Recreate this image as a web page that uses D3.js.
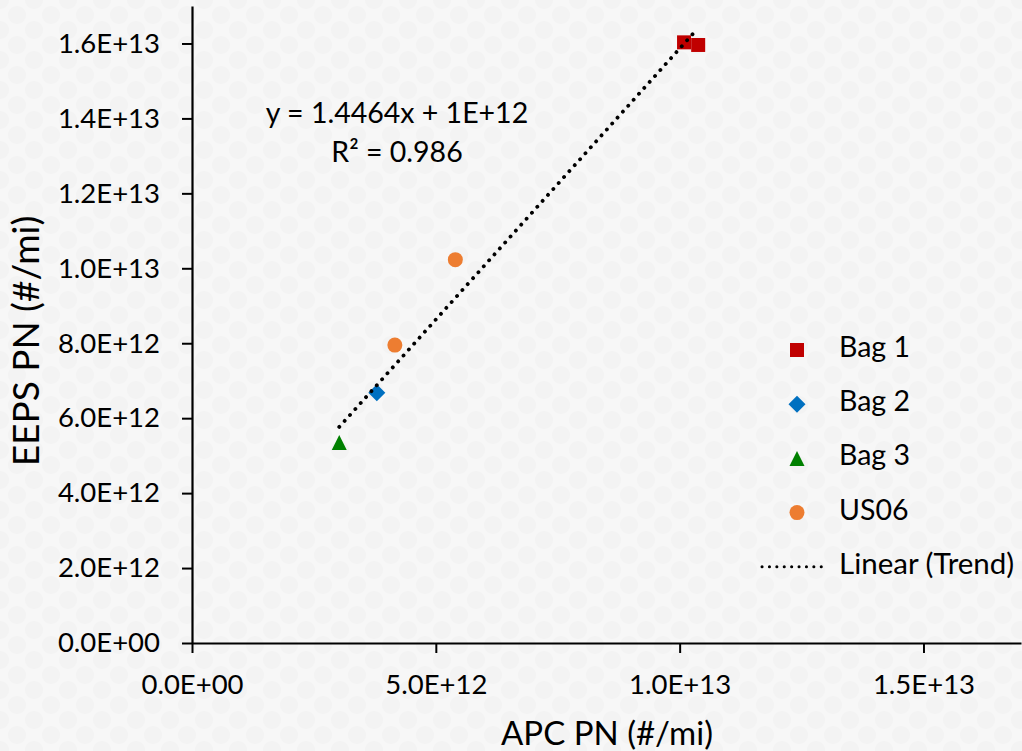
<!DOCTYPE html>
<html>
<head>
<meta charset="utf-8">
<script src="https://cdn.jsdelivr.net/npm/d3@7/dist/d3.min.js"></script>
<style>
  html, body { margin: 0; padding: 0; background: #f6f6f6; }
  svg { display: block; }
  text { font-family: Lato, "Open Sans", sans-serif; fill: #000; }
</style>
</head>
<body>
<svg id="chart" width="1022" height="751"></svg>
<script>

// ---- data ----
var seriesNames = ["Bag 1", "Bag 2", "Bag 3", "US06"];
var seriesColors = ["#c00000", "#0070c0", "#008000", "#ed7d31"];

var bag1X = [10.09e12, 10.38e12];
var bag1Y = [16.03e12, 15.96e12];
var bag2X = [3.79e12];
var bag2Y = [6.68e12];
var bag3X = [3.02e12];
var bag3Y = [5.35e12];
var us06X = [5.40e12, 4.16e12];
var us06Y = [10.23e12, 7.95e12];

// linear trend (as printed: y = 1.4464x + 1E+12)
var trendSlope = 1.4464;
var trendIntercept = 1.40e12;
var trendXRange = [3.02e12, 10.27e12];
var trendLabel = "Linear (Trend)";
var equationLines = ["y = 1.4464x + 1E+12", "R\u00b2 = 0.986"];

var xTicks = [0, 5e12, 1e13, 1.5e13];
var yTicks = [0, 2e12, 4e12, 6e12, 8e12, 1e13, 1.2e13, 1.4e13, 1.6e13];
var xTitle = "APC PN (#/mi)";
var yTitle = "EEPS PN (#/mi)";

// ---- layout ----
var svg = d3.select("#chart");
var plotLeft = 192, plotRight = 1021, plotTop = 6, plotBottom = 643;

var x = d3.scaleLinear().domain([0, 1.7e13]).range([plotLeft, plotRight]);
var y = d3.scaleLinear().domain([0, 1.7e13]).range([plotBottom, plotTop]);

// Excel style scientific labels, e.g. 1.6E+13 / 0.0E+00
function sci(v) {
    var s = v.toExponential(1).toUpperCase();
    return s.replace(/E([+-])(\d)$/, "E$10$2");
}

// faint dotted background, like the slide texture
var defs = svg.append("defs");
var pat = defs.append("pattern")
    .attr("id", "dots")
    .attr("patternUnits", "userSpaceOnUse")
    .attr("width", 34).attr("height", 30);
[[0, 0], [34, 0], [17, 15], [0, 30], [34, 30]].forEach(function (c) {
    pat.append("circle")
        .attr("cx", c[0]).attr("cy", c[1]).attr("r", 9)
        .style("fill", "#000").style("opacity", 0.017);
});
svg.append("rect").attr("width", 1022).attr("height", 751).style("fill", "#f7f7f7");
svg.append("rect").attr("width", 1022).attr("height", 751).style("fill", "url(#dots)");

// ---- axes ----
var xAxis = svg.append("g")
    .attr("transform", "translate(0," + plotBottom + ")")
    .call(d3.axisBottom(x).tickValues(xTicks).tickFormat(sci)
        .tickSize(10).tickSizeOuter(0).tickPadding(21));

var yAxis = svg.append("g")
    .attr("transform", "translate(" + plotLeft + ",0)")
    .call(d3.axisLeft(y).tickValues(yTicks).tickFormat(sci)
        .tickSize(10).tickSizeOuter(0).tickPadding(22));

[xAxis, yAxis].forEach(function (g) {
    g.select(".domain").style("stroke", "#000").style("stroke-width", 2.2);
    g.selectAll(".tick line").style("stroke", "#000").style("stroke-width", 2);
    g.selectAll(".tick text")
        .style("font-family", "Lato, 'Open Sans', sans-serif")
        .style("font-size", "27.5px")
        .style("fill", "#000");
});

// axis titles
svg.append("text")
    .attr("x", 607).attr("y", 745)
    .attr("text-anchor", "middle")
    .style("font-size", "33px")
    .text(xTitle);

svg.append("text")
    .attr("transform", "translate(39,341) rotate(-90)")
    .attr("text-anchor", "middle")
    .style("font-size", "37px")
    .text(yTitle);

// ---- markers ----
function markerPath(kind) {
    if (kind === 0) return d3.symbol().type(d3.symbolSquare).size(14 * 14)();
    if (kind === 1) return "M0,-8.5L8.5,0L0,8.5L-8.5,0Z";
    if (kind === 2) return "M0,-7.5L7.5,7.5L-7.5,7.5Z";
    return d3.symbol().type(d3.symbolCircle).size(Math.PI * 7.5 * 7.5)();
}

var seriesX = [bag1X, bag2X, bag3X, us06X];
var seriesY = [bag1Y, bag2Y, bag3Y, us06Y];

seriesNames.forEach(function (name, k) {
    var pts = seriesX[k].map(function (v, i) { return [v, seriesY[k][i]]; });
    svg.append("g").attr("class", "series")
        .selectAll("path")
        .data(pts)
        .enter().append("path")
        .attr("d", markerPath(k))
        .attr("transform", function (d) { return "translate(" + x(d[0]) + "," + y(d[1]) + ")"; })
        .style("fill", seriesColors[k]);
});

// ---- trend line (dotted, drawn over the markers) ----
var trendPts = trendXRange.map(function (v) { return [v, trendSlope * v + trendIntercept]; });
svg.append("path")
    .datum(trendPts)
    .attr("d", d3.line().x(function (d) { return x(d[0]); }).y(function (d) { return y(d[1]); }))
    .style("fill", "none")
    .style("stroke", "#000")
    .style("stroke-width", 3.8)
    .style("stroke-linecap", "round")
    .style("stroke-dasharray", "0.1 7.9");

// equation label
svg.append("g").selectAll("text")
    .data(equationLines)
    .enter().append("text")
    .attr("x", 397)
    .attr("y", function (d, i) { return 123 + i * 38.5; })
    .attr("text-anchor", "middle")
    .style("font-size", "28.5px")
    .text(function (d) { return d; });

// ---- legend ----
var legend = svg.append("g").attr("transform", "translate(797,350)");
var rowH = 54.2;

seriesNames.forEach(function (name, k) {
    var row = legend.append("g").attr("transform", "translate(0," + (k * rowH) + ")");
    row.append("path").attr("d", markerPath(k)).style("fill", seriesColors[k]);
    row.append("text").attr("x", 42).attr("y", 7).style("font-size", "28.5px").text(name);
});

var trendRow = legend.append("g").attr("transform", "translate(0," + (4 * rowH) + ")");
trendRow.append("line")
    .attr("x1", -35).attr("x2", 31).attr("y1", 0).attr("y2", 0)
    .style("stroke", "#000")
    .style("stroke-width", 3)
    .style("stroke-linecap", "round")
    .style("stroke-dasharray", "0.1 7.3");
trendRow.append("text").attr("x", 42).attr("y", 7).style("font-size", "29.5px").text(trendLabel);

</script>
</body>
</html>
